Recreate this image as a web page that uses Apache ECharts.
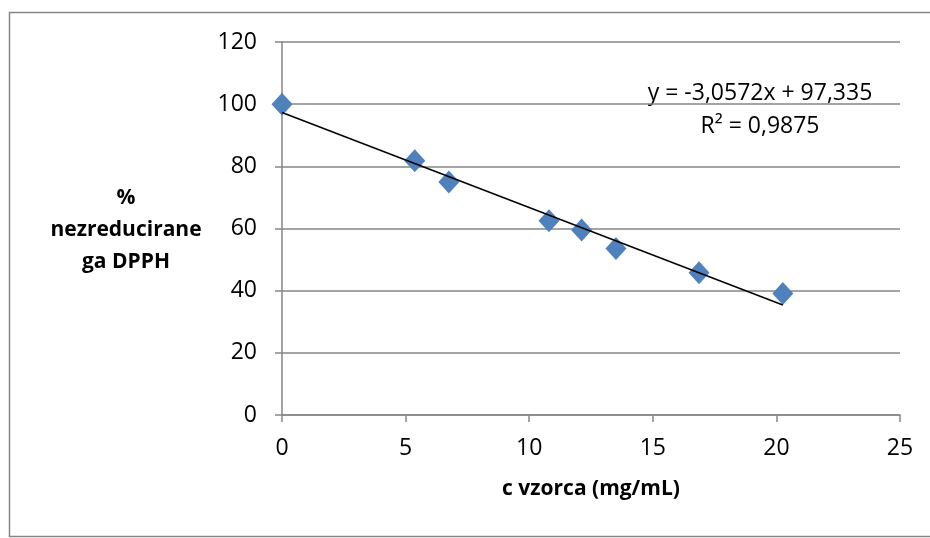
<!DOCTYPE html>
<html>
<head>
<meta charset="utf-8">
<script src="https://cdn.jsdelivr.net/npm/echarts@6/dist/echarts.min.js"></script>
<style>
  html, body { margin: 0; padding: 0; background: #fff; }
  #chart_001 { width: 930px; height: 538px; }
</style>
</head>
<body>
<div id="chart_001"></div>
<script>
// koncentracija vzorca (mg/mL)
var cVzorca = [0, 5.37, 6.75, 10.8, 12.12, 13.51, 16.87, 20.26];
// % nezreduciranega DPPH
var nezred = [100, 81.8, 75.0, 62.5, 59.5, 53.6, 45.8, 39.1];
var xTicks = [0, 5, 10, 15, 20, 25];
var yTicks = [0, 20, 40, 60, 80, 100, 120];
// linearna trendna crta
var slope = -3.0572, intercept = 97.335;
var eqText = 'y = -3,0572x + 97,335';
var r2Text = 'R² = 0,9875';

var FONT = '"Open Sans", sans-serif';

var points = cVzorca.map(function (x, i) { return [x, nezred[i]]; });
var xEnd = cVzorca[cVzorca.length - 1];
var trend = [[0, intercept], [xEnd, slope * xEnd + intercept]];

var myChart = echarts.init(document.getElementById('chart_001'));

option = {
    animation: false,
    backgroundColor: '#fff',
    grid: { left: 282, top: 42, width: 618, height: 373 },
    xAxis: {
        type: 'value',
        min: xTicks[0], max: xTicks[xTicks.length - 1], interval: 5,
        name: 'c vzorca (mg/mL)',
        nameLocation: 'middle',
        nameGap: 64,
        nameTextStyle: { fontFamily: FONT, fontSize: 21, fontWeight: 'bold', color: '#000' },
        axisLine: { show: true, lineStyle: { color: '#868686', width: 1.5 } },
        axisTick: { show: true, length: 7, lineStyle: { color: '#868686', width: 1.5 } },
        axisLabel: { margin: 22, fontFamily: FONT, fontSize: 23, color: '#000' },
        splitLine: { show: false }
    },
    yAxis: {
        type: 'value',
        min: yTicks[0], max: yTicks[yTicks.length - 1], interval: 20,
        axisLine: { show: true, lineStyle: { color: '#868686', width: 1.5 } },
        axisTick: { show: true, length: 7, lineStyle: { color: '#868686', width: 1.5 } },
        axisLabel: { margin: 25, fontFamily: FONT, fontSize: 23, color: '#000' },
        splitLine: { show: true, lineStyle: { color: '#868686', width: 1.5 } }
    },
    graphic: [
        {
            type: 'rect', silent: true, z: -1,
            shape: { x: 9.5, y: 12.5, width: 940, height: 524 },
            style: { fill: null, stroke: '#868686', lineWidth: 1.5 }
        },
        {
            type: 'text', x: 126, y: 230,
            style: {
                text: '%\nnezreducirane\nga DPPH',
                font: 'bold 21px ' + FONT, fill: '#000',
                textAlign: 'center', textVerticalAlign: 'middle', lineHeight: 32
            }
        },
        {
            type: 'text', x: 760, y: 93,
            style: { text: eqText, font: '23px ' + FONT, fill: '#000', textAlign: 'center', textVerticalAlign: 'middle' }
        },
        {
            type: 'text', x: 760, y: 126,
            style: { text: r2Text, font: '23px ' + FONT, fill: '#000', textAlign: 'center', textVerticalAlign: 'middle' }
        }
    ],
    series: [
        {
            name: 'trend',
            type: 'line',
            data: trend,
            symbol: 'none',
            lineStyle: { color: '#000', width: 1.5 },
            z: 3
        },
        {
            name: 'DPPH',
            type: 'scatter',
            data: points,
            symbol: 'diamond',
            symbolSize: [21, 23],
            itemStyle: { color: '#4F81BD', opacity: 1 },
            z: 2
        }
    ]
};

myChart.setOption(option);
</script>
</body>
</html>
